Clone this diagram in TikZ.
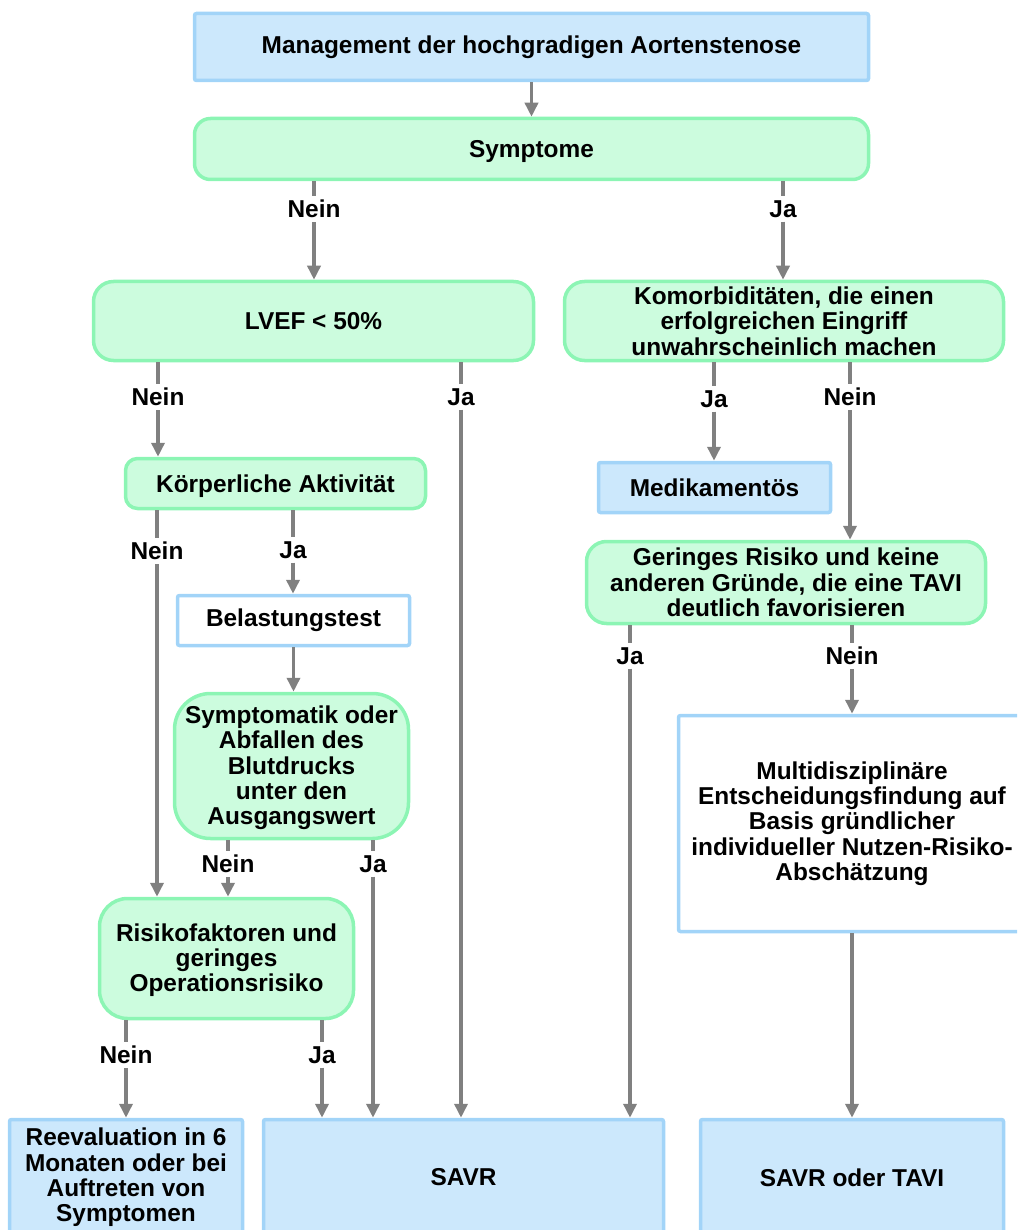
\documentclass[tikz,border=0pt]{standalone}
\usepackage{fontspec}
\setmainfont{Liberation Sans}
\usetikzlibrary{arrows.meta}
\definecolor{boxblue}{RGB}{204,232,252}
\definecolor{lineblue}{RGB}{162,212,248}
\definecolor{boxgreen}{RGB}{204,252,222}
\definecolor{linegreen}{RGB}{140,245,180}
\definecolor{arrowgrey}{RGB}{128,128,128}
\newcommand{\sinktext}[1]{\raisebox{-3pt}[\height][\depth]{#1}}
\begin{document}
\begin{tikzpicture}[x=1pt,y=-1pt,
    every node/.style={font=\fontsize{24.4}{25.3}\selectfont\bfseries, align=center},
    action/.style={draw=lineblue, fill=boxblue, line width=3.5pt, rounded corners=2pt, inner sep=0pt},
    test/.style={draw=lineblue, fill=white, line width=3.5pt, rounded corners=2pt, inner sep=0pt},
    decision/.style={draw=linegreen, fill=boxgreen, line width=3.5pt, rounded corners=16pt, inner sep=0pt},
    answer/.style={fill=white, inner sep=4pt},
    flow/.style={draw=arrowgrey, line width=3.5pt, -{Triangle[length=14pt,width=13pt]}}]
  \clip (0,0) rectangle (1017,1230);
  % boxes
  \node[action, minimum width=674pt, minimum height=67pt] (title) at (531.5,47)
    {Management der hochgradigen Aortenstenose};
  \node[decision, minimum width=674pt, minimum height=61pt] (symp) at (531.5,149)
    {\sinktext{Symptome}};
  \node[decision, minimum width=440pt, minimum height=79pt, rounded corners=20pt] (lvef) at (313.5,321)
    {LVEF < 50\%};
  \node[decision, minimum width=439pt, minimum height=79pt, rounded corners=20pt] (komorb) at (784,321)
    {Komorbiditäten, die einen\\erfolgreichen Eingriff\\unwahrscheinlich machen};
  \node[decision, minimum width=300pt, minimum height=50pt, rounded corners=12pt] (aktiv) at (275.5,483.5)
    {\sinktext{Körperliche Aktivität}};
  \node[action, minimum width=232pt, minimum height=50pt] (medik) at (714.5,487.5) {Medikamentös};
  \node[test, minimum width=232pt, minimum height=50pt] (belast) at (293.5,620.5) {Belastungstest};
  \node[decision, minimum width=399pt, minimum height=82pt, rounded corners=20pt] (gering) at (786,582.5)
    {Geringes Risiko und keine\\anderen Gründe, die eine TAVI\\deutlich favorisieren};
  \node[decision, minimum width=234pt, minimum height=145pt, rounded corners=36pt] (abfall) at (291.5,766)
    {\sinktext{\begin{tabular}{@{}c@{}}Symptomatik oder\\Abfallen des\\Blutdrucks\\unter den\\Ausgangswert\end{tabular}}};
  \node[test, minimum width=347pt, minimum height=216pt] (multi) at (852,823.5)
    {Multidisziplinäre\\Entscheidungsfindung auf\\Basis gründlicher\\individueller Nutzen-Risiko-\\Abschätzung};
  \node[decision, minimum width=254pt, minimum height=120pt, rounded corners=28pt] (risiko) at (226.5,958.5)
    {\sinktext{\begin{tabular}{@{}c@{}}Risikofaktoren und\\geringes\\Operationsrisiko\end{tabular}}};
  \node[action, minimum width=233pt, minimum height=116pt] (reeval) at (126,1177.5)
    {Reevaluation in 6\\Monaten oder bei\\Auftreten von\\Symptomen};
  \node[action, minimum width=400pt, minimum height=116pt] (savr) at (463.5,1177.5) {SAVR};
  \node[action, minimum width=303pt, minimum height=116pt] (savrtavi) at (852,1177.5) {SAVR oder TAVI};
  % answers
  \node[answer] (n1) at (314,209) {Nein};
  \node[answer] (j1) at (783,209) {Ja};
  \node[answer] (n2) at (158,397) {Nein};
  \node[answer] (j2) at (461,397) {Ja};
  \node[answer] (j3) at (714,399) {Ja};
  \node[answer] (n3) at (850,397) {Nein};
  \node[answer] (n4) at (157,551) {Nein};
  \node[answer] (j4) at (293,550) {Ja};
  \node[answer] (n5) at (228,864) {Nein};
  \node[answer] (j5) at (373,864) {Ja};
  \node[answer] (n6) at (126,1055) {Nein};
  \node[answer] (j6) at (322,1055) {Ja};
  \node[answer] (j7) at (630,656) {Ja};
  \node[answer] (n7) at (852,656) {Nein};
  % arrows
  \begin{scope}[every path/.style={flow}]
    \draw (title) -- (symp);
    \draw (symp.south -| n1) -- (n1) -- (lvef.north -| n1);
    \draw (symp.south -| j1) -- (j1) -- (komorb.north -| j1);
    \draw (lvef.south -| n2) -- (n2) -- (aktiv.north -| n2);
    \draw (lvef.south -| j2) -- (j2) -- (savr.north -| j2);
    \draw (komorb.south -| j3) -- (j3) -- (medik.north -| j3);
    \draw (komorb.south -| n3) -- (n3) -- (gering.north -| n3);
    \draw (aktiv.south -| n4) -- (n4) -- (risiko.north -| n4);
    \draw (aktiv.south -| j4) -- (j4) -- (belast.north -| j4);
    \draw (belast) -- (abfall.north -| belast);
    \draw (abfall.south -| n5) -- (n5) -- (risiko.north -| n5);
    \draw (abfall.south -| j5) -- (j5) -- (savr.north -| j5);
    \draw (risiko.south -| n6) -- (n6) -- (reeval.north -| n6);
    \draw (risiko.south -| j6) -- (j6) -- (savr.north -| j6);
    \draw (gering.south -| j7) -- (j7) -- (savr.north -| j7);
    \draw (gering.south -| n7) -- (n7) -- (multi.north -| n7);
    \draw (multi) -- (savrtavi);
  \end{scope}
\end{tikzpicture}
\end{document}
